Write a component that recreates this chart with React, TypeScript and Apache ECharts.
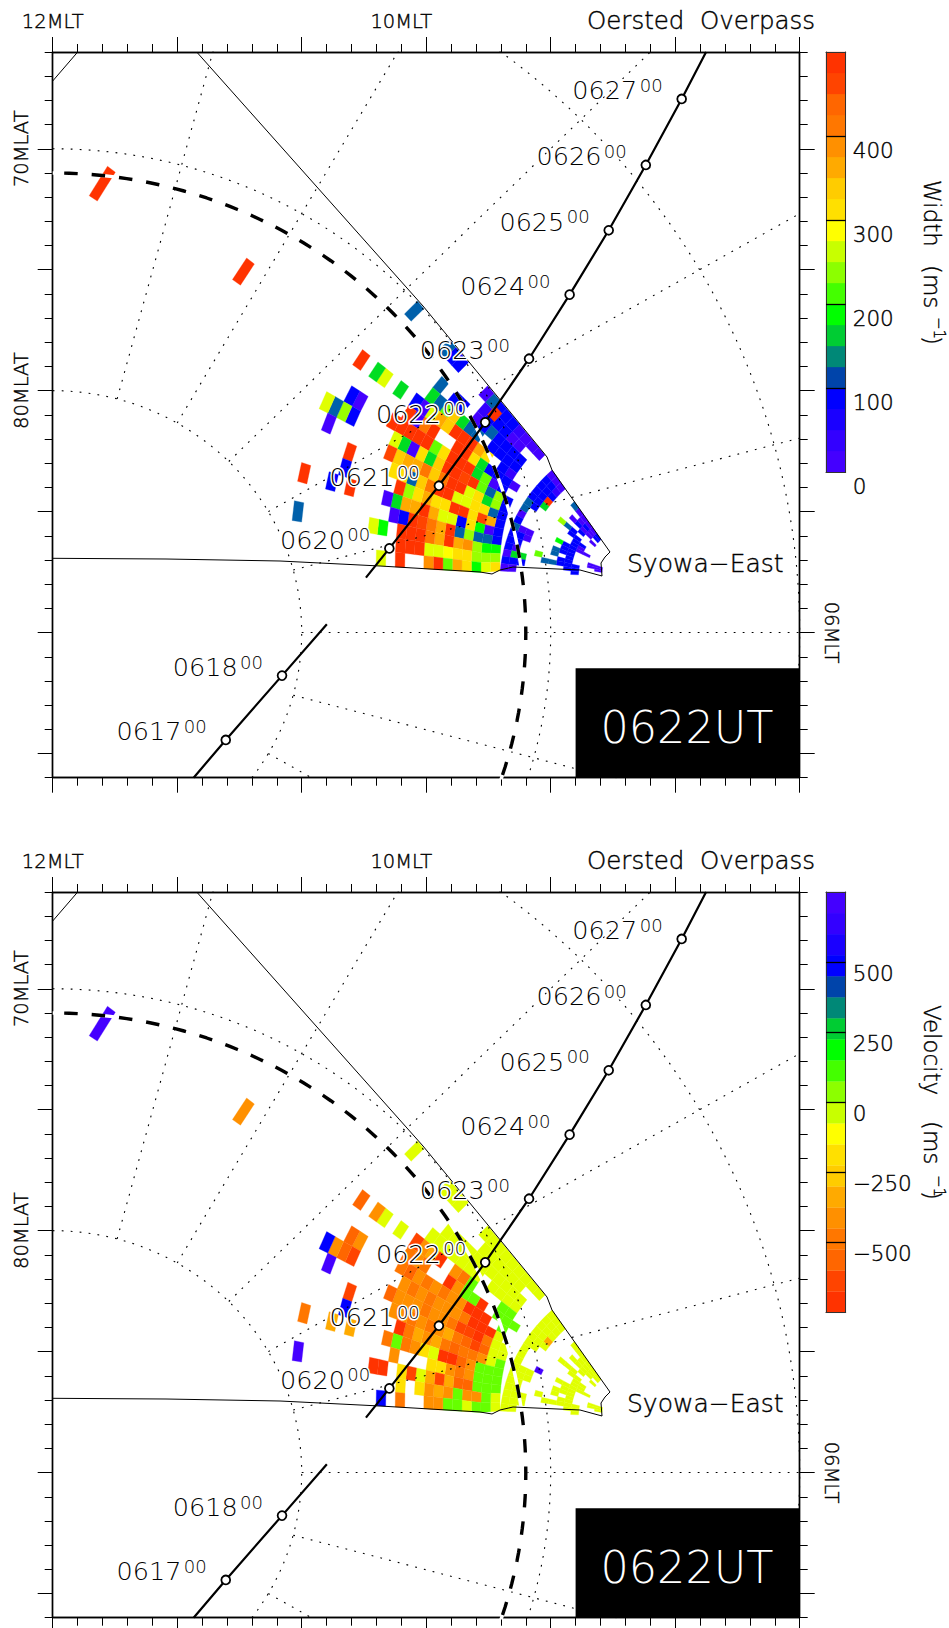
import React, { useEffect, useRef } from "react";
import * as echarts from "echarts";

// ---- data ----
const overpassA = [["0627",25.26,22.06],["0626",23.82,19.33],["0625",22.33,16.63],["0624",20.76,13.97],["0623",19.13,11.32],["0622",17.37,8.69],["0621",15.51,6.07],["0620",13.52,3.48]] as [string,number,number][];
const overpassB = [["0618",9.21,-1.78],["0617",6.95,-4.44]] as [string,number,number][];
const trackEndsA = [[26.24,24],[12.58,2.27]];
const trackEndsB = [[11.01,0.34],[5.66,-6]];
const mlatColat = [10,20,30];
const oval = 19;
const mltRays = [4,5,6,7,8,9,10,11];
const barColors = ["#4400ff","#3300ff","#1a00ff","#0000ff","#0044aa","#008877","#00cc33","#00ff00","#44ff00","#8cff00","#c8ff00","#ffff00","#ffe000","#ffcc00","#ffaa00","#ff9000","#ff7700","#ff6600","#ff4400","#ff3300"];
const cellColors = ["#4400ff","#3300ff","#1a00ff","#0000ff","#0060aa","#008877","#00dd22","#00ff00","#66ff00","#99ff00","#e0ff00","#ffff00","#ffe000","#ffcc00","#ffaa00","#ff9000","#ff7700","#ff6600","#ff4400","#ff3300"];
const CODES = "pvubtegGlLcyYoOaArRX";
// [beam, first gate, one colour-bin code per gate]
const widthRuns: [number,number,string][] = [
[0,2,"bppppt"],[0,10,"ppp"],[1,2,"bpbp"],[1,10,"vbb"],[2,3,"ppbp"],[2,10,"bbb"],[3,2,"p.b"],[3,10,"Xbb"],[4,5,"btL"],[4,10,"gbb"],[5,4,"bb"],[5,11,"bt"],[6,3,"bb"],[6,12,"t"],[7,3,"pb"],[7,12,"p"],[8,2,"ppbbG"],[8,12,"b"],[9,4,"bb"],[9,10,"ppt"],[10,4,"bbt"],[10,10,"pbb"],[11,0,"pp..b.t"],[11,11,"bb"],[12,0,"pp..bb..l"],[12,11,"pb"],[13,0,"p..bbbtt"],[13,10,"ggp"],[14,3,"bb"],[14,10,"bbb"],[15,3,"b"],[15,11,"pp"],
[0,13,"pppvbbbtp...bbt....t"],[1,15,"ppbbbv"],[0.6,19,"X"],[2,14,"bbbbtbp.bb.t"],[3,14,"bbbb.ttgoltg"],[4,14,"vb"],[4,17,"YOXXXoOcpb.g.cg.X"],[4,48,"X"],[4.4,65,"X"],
[5,13,"pbbbgYXX..XApX"],[6,14,"bplgXXXYlXXXXX"],[6,31,"pb"],[7,13,"bLtlXRXXogYpgc"],[7,31,"bLtc"],[8,13,"bLgYcXXAoAOOoR"],[8,33,"p"],[9,13,"btYYccXXAotYY"],[9,30,"X"],[10,13,"bORYXXYYOYLX"],[10,30,"b"],[11,13,"bpGYbccOXOOgp"],[11,29,"X"],[11,31,"b"],[11,34,"X"],[12,13,"bttLtXOARXbp"],[13,13,"GGLaOXOAXXX.Gc"],[13,34,"t"],[14,13,"LLLYYyccXXX"],[15,13,"YcGYOlXa..X.c"],
];
const velocityRuns: [number,number,string][] = [
[0,2,"cccccc"],[0,10,"ccc"],[1,2,"cccc"],[1,10,"ccc"],[2,3,"cccc"],[2,10,"ccc"],[3,2,"c.c"],[3,10,"Occ"],[4,5,"ccc"],[4,10,"ccc"],[5,4,"cc"],[5,11,"cc"],[6,3,"cc"],[6,12,"c"],[7,3,"cc"],[7,12,"c"],[8,2,"ccccc"],[8,9,"p"],[8,12,"c"],[9,4,"cc"],[9,10,"ccc"],[10,4,"ccc"],[10,10,"ccc"],[11,0,"cc..c.c"],[11,11,"cc"],[12,0,"cc..cc..c"],[12,11,"cc"],[13,0,"c..ccccc"],[13,10,"ccc"],[14,3,"cc"],[14,10,"ccc"],[15,3,"c"],[15,11,"cc"],
[0,13,"ccccccccc...ccc....c"],[1,15,"cccccc"],[2,14,"ccccccccccc"],[3,14,"cccc.ccccccc"],[4,14,"ll"],[4,19,"lAa.XOaR.c.ca.r"],[4,48,"a"],[4.4,65,"p"],
[5,13,"lll.XllaX..AaA"],[6,14,"l.XXXaaAaAarA"],[6,31,"ar"],[7,14,"cXXXAaaaAaAa"],[7,31,"Rrab"],[8,13,"ccAXRRAaaAaaar"],[8,33,"p"],[9,13,"ccrRrAOaAaAaa"],[9,30,"R"],[10,13,"lcaAArAOaOAX"],[10,30,"b"],[11,13,"lllarXXcYaAlA"],[11,29,"O"],[11,31,"O"],[11,34,"A"],[12,13,"lllaAaYY...a"],[13,13,"lllrrOROcRY"],[13,25,"XX"],[13,34,"p"],[14,13,"claalaOaY.Y"],[15,13,"cllcllaa..A.b"],
];
const widthTicks = [100,200,300,400];
const widthLabels = [0,100,200,300,400];
const velocityTicks = [-500,-250,0,250,500];

// ---- geometry (reference pixel <-> data units) ----
const KX = 24.9, KY = 725.7/30, X0 = 52.7, Y0 = 632.56;
const toData = (p:number[]) => [(p[0]-X0)/KX, (Y0-p[1])/KY];
const fovPx = [[196.7,52],[423,306],[543,452],[547,457],[552,470],[610,552],[605,557],[601,563],[602,576],[580,570],[513,567],[500,570],[492,574],[480,572],[380,566],[280,561],[166,559],[52.7,558.3]];
const cornerPx = [[52.7,81],[77.7,52]];
const BFAR = [[500,571],[480,572.5],[380,566],[280,561],[166,559],[52,558]];
const G0 = 13;
function edgeT(g:number,far:boolean){ if(!far){const f=g/G0;return [610-58*f,552-82*f];} const d=(g-G0)*10;return [545-0.6375*d,455-0.7703*d]; }
function edgeB(g:number,far:boolean){ if(!far){const f=g/G0;return [602-102*f,576-5*f];} let d=(g-G0)*9.55; for(let i=0;i<BFAR.length-1;i++){const a=BFAR[i],b=BFAR[i+1];const l=Math.hypot(b[0]-a[0],b[1]-a[1]);if(d<=l||i===BFAR.length-2){const f=d/l;return [a[0]+(b[0]-a[0])*f,a[1]+(b[1]-a[1])*f];}d-=l;} return BFAR[5]; }
function fanPoint(b:number,g:number,far:boolean){const t=edgeT(g,far),c=edgeB(g,far),f=b/16,ap=far?[652,583]:[627,576];const mx=(t[0]+c[0])/2,my=(t[1]+c[1])/2,vx=mx-ap[0],vy=my-ap[1],L=Math.hypot(vx,vy)||1,rho=Math.hypot(t[0]-ap[0],t[1]-ap[1]),s=rho*0.083*4*f*(1-f);return toData([t[0]+(c[0]-t[0])*f+vx/L*s,t[1]+(c[1]-t[1])*f+vy/L*s]);}

const FONT = "'DejaVu Sans ExtraLight','DejaVu Sans Light','DejaVu Sans'";
function decode(runs:[number,number,string][]){const out:number[][]=[];runs.forEach(([b,g,s])=>{for(let i=0;i<s.length;i++){const k=CODES.indexOf(s[i]);if(k>=0)out.push([b,g+i,k]);}});return out;}
const arc=(r:number,a0:number,a1:number)=>{const o:number[][]=[];for(let a=a0;a>=a1;a-=1)o.push([r*Math.cos(a*Math.PI/180),r*Math.sin(a*Math.PI/180)]);return o;};

function panelSeries(idx:number,runs:[number,number,string][],palette:string[]){
  const axes={xAxisIndex:idx*4,yAxisIndex:idx*4};
  const dotted={color:"#000",width:1.1,type:[1.8,7.2] as any};
  const line=(data:number[][],style:any,z:number,extra:any={})=>({type:"line",...axes,data,showSymbol:false,silent:true,lineStyle:style,z,animation:false,...extra});
  const s:any[]=[];
  s.push({type:"custom",...axes,z:2,silent:true,clip:false,data:decode(runs),encode:{x:0,y:1},renderItem:(_:any,api:any)=>{
    const b=api.value(0),g=api.value(1),k=api.value(2),far=g>=G0;
    const pts=[fanPoint(b,g,far),fanPoint(b+1,g,far),fanPoint(b+1,g+1,far),fanPoint(b,g+1,far)].map((p:number[])=>api.coord(p));
    return {type:"polygon",shape:{points:pts},style:{fill:palette[k],stroke:palette[k],lineWidth:0.3}};
  }});
  mlatColat.forEach(r=>s.push(line(arc(r,90,-60),dotted,3)));
  mltRays.forEach(m=>{const a=(m-6)*15*Math.PI/180;s.push(line([[10*Math.cos(a),10*Math.sin(a)],[50*Math.cos(a),50*Math.sin(a)]],dotted,3));});
  s.push(line(arc(oval,90,-60),{color:"#fff",width:3.4},4));
  s.push(line(arc(oval,90,-60),{color:"#000",width:3.4,type:[13.5,14],dashOffset:16.2},5));
  s.push(line(fovPx.map(toData),{color:"#000",width:1},6));
  s.push(line(cornerPx.map(toData),{color:"#000",width:1},6));
  const labelled=(rows:[string,number,number][],ends:number[][])=>{
    s.push(line([ends[0],...rows.map(r=>[r[1],r[2]]),ends[1]],{color:"#000",width:2.2},7));
    s.push({type:"custom",...axes,z:8,silent:true,clip:false,data:rows.map(r=>[r[1],r[2]]),encode:{x:0,y:1},renderItem:(params:any,api:any)=>{
      const p=api.coord([api.value(0),api.value(1)]),name=rows[params.dataIndex][0];
      return {type:"group",children:[
        {type:"circle",shape:{cx:p[0],cy:p[1],r:4.4},style:{fill:"#fff",stroke:"#000",lineWidth:1.8}},
        {type:"text",x:p[0]-109.3,y:p[1]-8.5,style:{text:name,font:`25.5px ${FONT}`,textVerticalAlign:"middle",textAlign:"left",fill:"#000",stroke:"#fff",lineWidth:3}},
        {type:"text",x:p[0]-42,y:p[1]-13.5,style:{text:"00",font:`18px ${FONT}`,textVerticalAlign:"middle",textAlign:"left",fill:"#000",stroke:"#fff",lineWidth:3}},
      ]};
    }});
  };
  labelled(overpassA,trackEndsA);
  labelled(overpassB,trackEndsB);
  return s;
}

function axesFor(gridIndex:number){
  const base={gridIndex,type:"value" as const,axisLine:{show:true,onZero:false,lineStyle:{color:"#000",width:1.4}},splitLine:{show:false}};
  const maj=(vals:number[])=>({customValues:vals,length:15,lineStyle:{color:"#000",width:1}});
  const minTick={length:8,lineStyle:{color:"#000",width:1}};
  const xr={min:0,max:30},yr={min:-6,max:24};
  const xM=[0,5,10,15,20,25,30],yM=[-5,0,5,10,15,20];
  const lab={color:"#000",fontFamily:FONT,fontSize:19.5,textBorderColor:"#000",textBorderWidth:0.4};
  const xAxis=[
    {...base,...xr,position:"top",axisTick:maj(xM),axisLabel:{...lab,show:true,margin:21,customValues:[0,14],formatter:(v:number)=>v===0?"12MLT":"10MLT"}},
    {...base,...xr,position:"top",interval:1,axisTick:minTick,axisLabel:{show:false}},
    {...base,...xr,position:"bottom",axisTick:maj(xM),axisLabel:{show:false}},
    {...base,...xr,position:"bottom",interval:1,axisTick:minTick,axisLabel:{show:false}},
  ];
  const yAxis=[
    {...base,...yr,position:"left",axisTick:maj(yM),axisLabel:{...lab,show:true,rotate:90,margin:21,customValues:[10,20],formatter:(v:number)=>v===20?"70MLAT":"80MLAT"}},
    {...base,...yr,position:"left",interval:1,axisTick:minTick,axisLabel:{show:false}},
    {...base,...yr,position:"right",axisTick:maj(yM),axisLabel:{...lab,show:true,rotate:-90,margin:22,customValues:[0],formatter:()=>"06MLT"}},
    {...base,...yr,position:"right",interval:1,axisTick:minTick,axisLabel:{show:false}},
  ];
  return {xAxis,yAxis};
}

function binSeries(xi:number,yi:number,cols:string[],lo:number,step:number){
  return {type:"custom",xAxisIndex:xi,yAxisIndex:yi,z:2,silent:true,clip:false,data:cols.map((_,i)=>[lo+i*step,lo+(i+1)*step,i]),encode:{y:[0,1]},renderItem:(_:any,api:any)=>{
    const a=api.coord([0,api.value(0)]),b=api.coord([1,api.value(1)]);
    return {type:"rect",shape:{x:a[0],y:b[1],width:b[0]-a[0],height:a[1]-b[1]},style:{fill:cols[api.value(2)],stroke:cols[api.value(2)],lineWidth:0.3}};
  }};
}

function barAxes(gridIndex:number,min:number,max:number,ticks:number[],labels:number[],lh:number){
  const ln={show:true,onZero:false,lineStyle:{color:"#333",width:1}};
  const base={gridIndex,type:"value" as const,splitLine:{show:false},z:5};
  return {
    xAxis:[{...base,min:0,max:1,position:"top",axisLine:ln,axisTick:{show:false},axisLabel:{show:false}},{...base,min:0,max:1,position:"bottom",axisLine:ln,axisTick:{show:false},axisLabel:{show:false}}],
    yAxis:[{...base,min,max,position:"left",axisLine:ln,axisTick:{show:false},axisLabel:{show:false}},
      {...base,min,max,position:"right",axisLine:ln,axisTick:{show:true,inside:true,length:19.7,customValues:ticks,lineStyle:{color:"#000",width:1.3}},axisLabel:{show:true,customValues:labels,margin:7,color:"#000",fontFamily:FONT,fontSize:21.5,textBorderColor:"#000",textBorderWidth:0.4,align:"left",verticalAlign:"top",lineHeight:lh,formatter:(v:number)=>String(v).replace("-","\u2212")}}],
  };
}

function rotText(text:string,x:number,y:number,size:number,align="left"){
  return {type:"text",x,y,rotation:-Math.PI/2,silent:true,z:10,style:{text,font:`${size}px ${FONT}`,fill:"#000",stroke:"#000",lineWidth:0.4,textAlign:align,textVerticalAlign:"middle"}};
}
function panelGraphics(dy:number){
  return [
    {type:"text",x:815,y:20+dy,silent:true,z:10,style:{text:"Oersted  Overpass",font:`24.5px ${FONT}`,fill:"#000",stroke:"#000",lineWidth:0.4,textAlign:"right",textVerticalAlign:"middle"}},
    {type:"text",x:627,y:563+dy,silent:true,z:10,style:{text:"Syowa\u2212East",font:`25px ${FONT}`,fill:"#000",stroke:"#000",lineWidth:0.4,textAlign:"left",textVerticalAlign:"middle"}},
    {type:"text",x:687,y:727+dy,silent:true,z:12,style:{text:"0622UT",font:`44.5px ${FONT}`,fill:"#fff",textAlign:"center",textVerticalAlign:"middle"}},
  ];
}

export default function App(){
  const ref=useRef<HTMLDivElement>(null);
  useEffect(()=>{
    if(!ref.current) return;
    const chart=echarts.init(ref.current,undefined,{renderer:"svg"});
    const a=axesFor(0),b=axesFor(1);
    const wb=barAxes(2,0,500,widthTicks,widthLabels,29);
    const vb=barAxes(3,-750,750,velocityTicks,velocityTicks,22);
    const box=(gi:number)=>({type:"custom",xAxisIndex:gi*4,yAxisIndex:gi*4,z:9,silent:true,clip:false,data:[[21,-1.48,30,-6]],encode:{x:[0,2],y:[1,3]},renderItem:(_:any,api:any)=>{const p=api.coord([api.value(0),api.value(1)]),q=api.coord([api.value(2),api.value(3)]);return {type:"rect",shape:{x:p[0],y:p[1],width:q[0]-p[0],height:q[1]-p[1]},style:{fill:"#000"}};}});
    chart.setOption({
      animation:false,backgroundColor:"#fff",
      grid:[
        {left:52.7,top:52,width:747,height:725.7},
        {left:52.7,top:892,width:747,height:725.7},
        {left:826,top:52,width:19.7,height:420},
        {left:826,top:892,width:19.7,height:420.6},
      ],
      xAxis:[...a.xAxis,...b.xAxis,...wb.xAxis,...vb.xAxis],
      yAxis:[...a.yAxis,...b.yAxis,...wb.yAxis,...vb.yAxis],
      series:[
        ...panelSeries(0,widthRuns,cellColors),box(0),
        ...panelSeries(1,velocityRuns,cellColors),box(1),
        binSeries(8,8,barColors,0,25),
        binSeries(10,10,[...barColors].reverse(),-750,75),
      ],
      graphic:[...panelGraphics(0),...panelGraphics(840),
        rotText("Width",931.7,180,23),rotText("(ms",931.7,265,23),rotText("\u22121",939,317,15),rotText(")",931.7,336,23),
        rotText("Velocity",931.7,1005,23),rotText("(ms",931.7,1121,23),rotText("\u22121",939,1175,15),rotText(")",931.7,1191,23),
      ],
    });
    return ()=>chart.dispose();
  },[]);
  return <div ref={ref} style={{position:"absolute",left:0,top:0,width:949,height:1628}}/>;
}
